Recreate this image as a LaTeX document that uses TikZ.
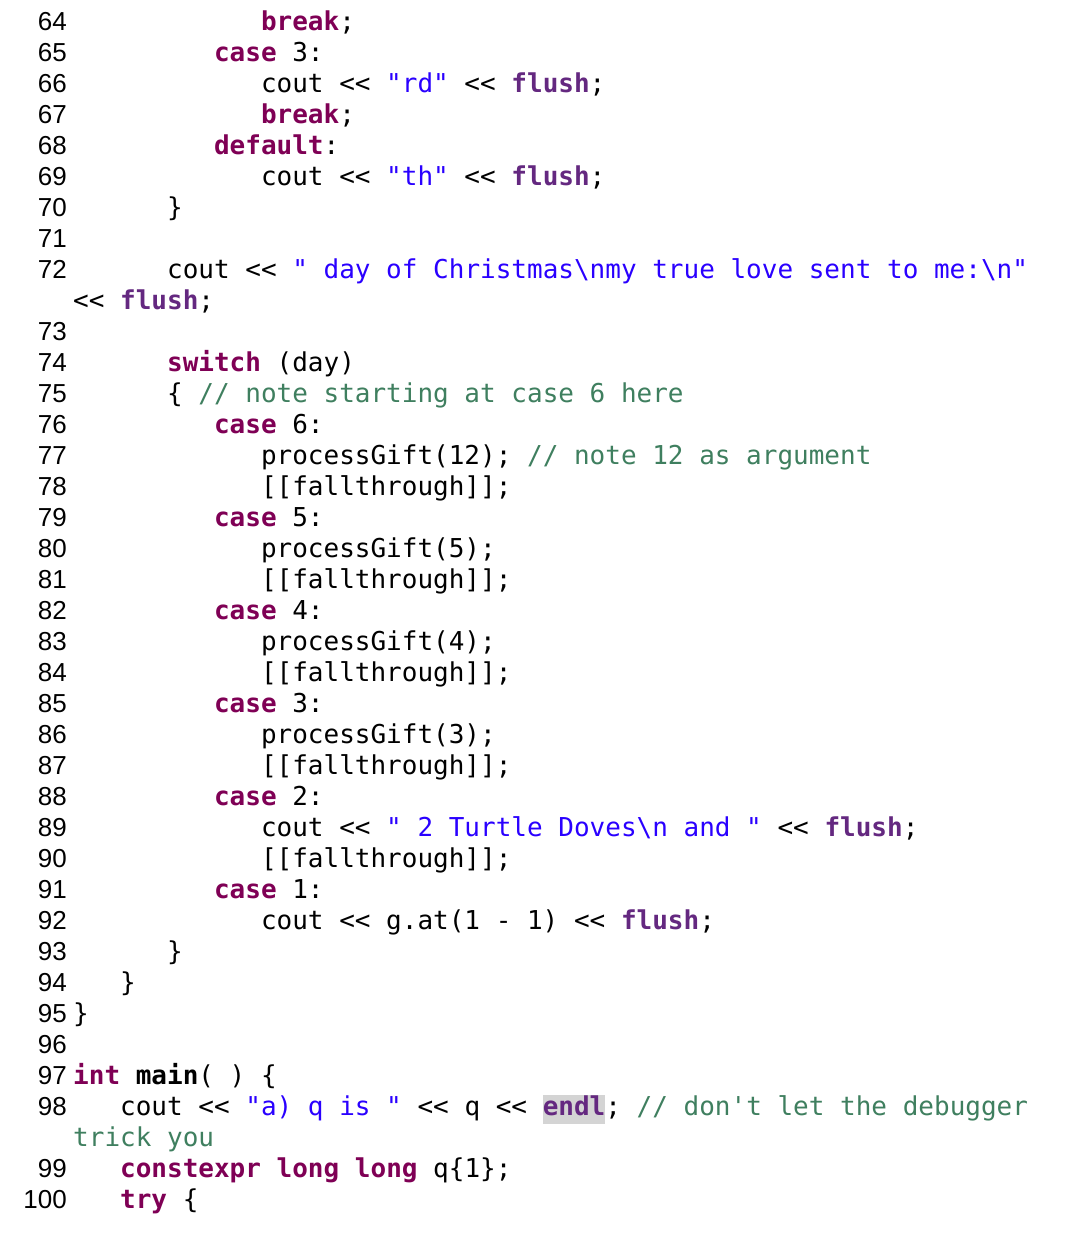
\documentclass[tikz,border=0pt]{standalone}
\usepackage{fontspec}
\setmonofont{DejaVu Sans Mono}
\newfontfamily\numfont{Liberation Sans}
\definecolor{kw}{HTML}{7F0055}
\definecolor{fl}{HTML}{642880}
\definecolor{st}{HTML}{2A00FF}
\definecolor{cm}{HTML}{3F7F5F}
\definecolor{hl}{HTML}{D4D4D4}
\newcommand\K[1]{\textcolor{kw}{\bfseries #1}}
\newcommand\F[1]{\textcolor{fl}{\bfseries #1}}
\newcommand\Sx[1]{\textcolor{st}{#1}}
\newcommand\Cm[1]{\textcolor{cm}{#1}}
\newcommand\bs{\char`\\}
\newcommand\cl[4]{\node[codeline] (c#1) at ({73+#3*15.65},{1244-31-31*#2}) {#4};}
\newcommand\nl[3]{\node[numline] (n#1) at (67,{1244-31-31*#2}) {#3};}
\begin{document}
\begin{tikzpicture}[x=1pt,y=1pt,
  codeline/.style={anchor=base west,inner sep=0pt,font=\fontsize{26}{31}\selectfont\ttfamily},
  numline/.style={anchor=base east,inner sep=0pt,font=\fontsize{26}{31}\selectfont\numfont}]
\useasboundingbox[fill=white] (0,0) rectangle (1080,1244);
\nl{a}{0}{64}\cl{a}{0}{12}{\K{break};}
\nl{b}{1}{65}\cl{b}{1}{9}{\K{case} 3:}
\nl{c}{2}{66}\cl{c}{2}{12}{cout << \Sx{"rd"} << \F{flush};}
\nl{d}{3}{67}\cl{d}{3}{12}{\K{break};}
\nl{e}{4}{68}\cl{e}{4}{9}{\K{default}:}
\nl{f}{5}{69}\cl{f}{5}{12}{cout << \Sx{"th"} << \F{flush};}
\nl{g}{6}{70}\cl{g}{6}{6}{\}}
\nl{h}{7}{71}
\nl{i}{8}{72}\cl{i}{8}{6}{cout << \Sx{" day of Christmas\bs nmy true love sent to me:\bs n"}}
\cl{i2}{9}{0}{<< \F{flush};}
\nl{j}{10}{73}
\nl{k}{11}{74}\cl{k}{11}{6}{\K{switch} (day)}
\nl{l}{12}{75}\cl{l}{12}{6}{\{ \Cm{// note starting at case 6 here}}
\nl{m}{13}{76}\cl{m}{13}{9}{\K{case} 6:}
\nl{n}{14}{77}\cl{n}{14}{12}{processGift(12); \Cm{// note 12 as argument}}
\nl{o}{15}{78}\cl{o}{15}{12}{[[fallthrough]];}
\nl{p}{16}{79}\cl{p}{16}{9}{\K{case} 5:}
\nl{q}{17}{80}\cl{q}{17}{12}{processGift(5);}
\nl{r}{18}{81}\cl{r}{18}{12}{[[fallthrough]];}
\nl{s}{19}{82}\cl{s}{19}{9}{\K{case} 4:}
\nl{t}{20}{83}\cl{t}{20}{12}{processGift(4);}
\nl{u}{21}{84}\cl{u}{21}{12}{[[fallthrough]];}
\nl{v}{22}{85}\cl{v}{22}{9}{\K{case} 3:}
\nl{w}{23}{86}\cl{w}{23}{12}{processGift(3);}
\nl{x}{24}{87}\cl{x}{24}{12}{[[fallthrough]];}
\nl{y}{25}{88}\cl{y}{25}{9}{\K{case} 2:}
\nl{z}{26}{89}\cl{z}{26}{12}{cout << \Sx{" 2 Turtle Doves\bs n and "} << \F{flush};}
\nl{A}{27}{90}\cl{A}{27}{12}{[[fallthrough]];}
\nl{B}{28}{91}\cl{B}{28}{9}{\K{case} 1:}
\nl{C}{29}{92}\cl{C}{29}{12}{cout << g.at(1 - 1) << \F{flush};}
\nl{D}{30}{93}\cl{D}{30}{6}{\}}
\nl{E}{31}{94}\cl{E}{31}{3}{\}}
\nl{F}{32}{95}\cl{F}{32}{0}{\}}
\nl{G}{33}{96}
\nl{H}{34}{97}\cl{H}{34}{0}{\K{int} \textbf{main}( ) \{}
\nl{I}{35}{98}\cl{I}{35}{3}{cout << \Sx{"a) q is "} << q << {\setlength\fboxsep{0pt}\colorbox{hl}{\rule[-8pt]{0pt}{29pt}\F{endl}}}; \Cm{// don't let the debugger}}
\cl{I2}{36}{0}{\Cm{trick you}}
\nl{J}{37}{99}\cl{J}{37}{3}{\K{constexpr} \K{long} \K{long} q\{1\};}
\nl{K}{38}{100}\cl{K}{38}{3}{\K{try} \{}
\end{tikzpicture}
\end{document}
